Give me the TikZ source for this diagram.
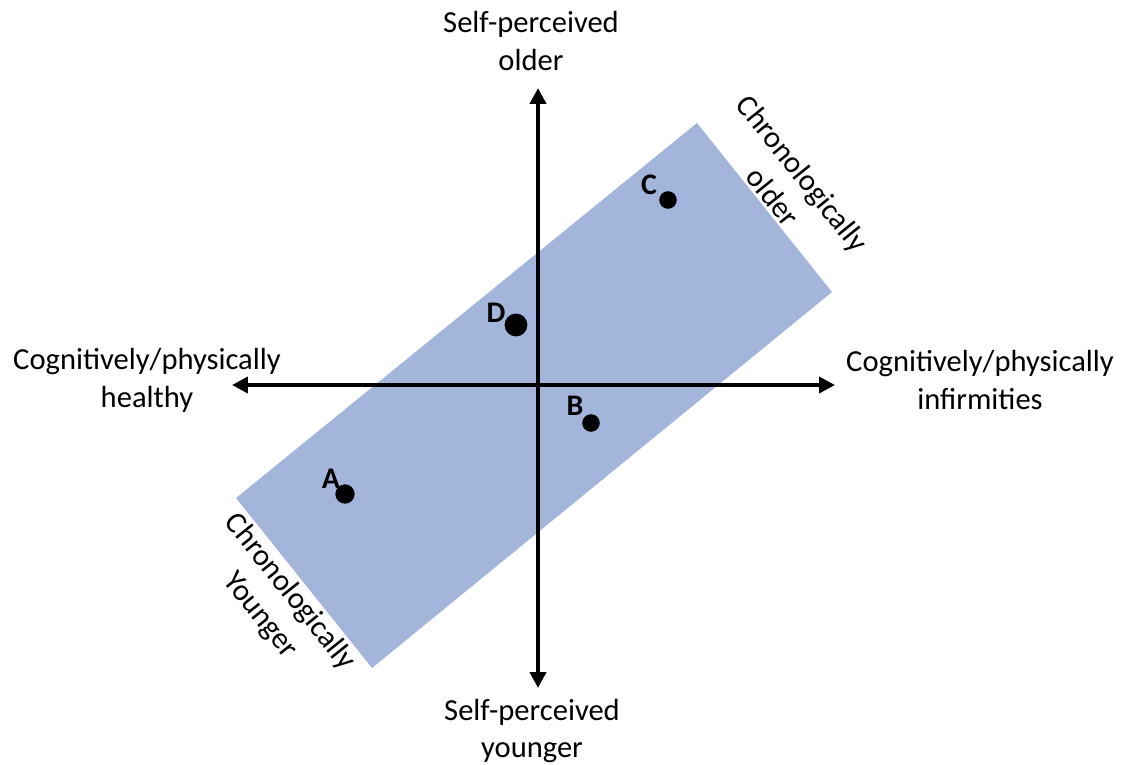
\documentclass[tikz,border=0pt]{standalone}
\usepackage{fontspec}
\setmainfont{Carlito}
\usetikzlibrary{arrows.meta}
\definecolor{bandblue}{RGB}{164,181,220}
\tikzset{
  axis/.style={line width=2.2pt,-{Triangle[length=9pt,width=9pt]}},
  axislabel/.style={align=center,font=\fontsize{17.4}{21.5}\selectfont},
  bandlabel/.style={align=center,rotate=-51.3,font=\fontsize{17.4}{21.5}\selectfont},
  dot/.style={circle,fill=black,inner sep=0pt,minimum size=#1},
  letter/.style={font=\fontsize{17}{18}\selectfont\bfseries}
}
\begin{document}
\begin{tikzpicture}[x=0.02cm,y=-0.02cm]
\useasboundingbox (0,0) rectangle (1128,764);

% band of chronological age
\coordinate (bt) at (697,123);
\coordinate (br) at (832,292);
\coordinate (bb) at (372,668);
\coordinate (bl) at (236,498);
\fill[bandblue] (bt) -- (br) -- (bb) -- (bl) -- cycle;

% axes
\coordinate (o) at (538,385);
\coordinate (top) at (538,88);
\coordinate (bottom) at (538,688);
\coordinate (left) at (232,385);
\coordinate (right) at (835,385);
\draw[axis] (o) -- (top);
\draw[axis] (o) -- (bottom);
\draw[axis] (o) -- (left);
\draw[axis] (o) -- (right);

\node[axislabel] (older) at (531,41) {Self-perceived\\older};
\node[axislabel] (younger) at (532,731) {Self-perceived\\younger};
\node[axislabel] (healthy) at (147,380) {Cognitively/physically\\healthy};
\node[axislabel] (infirm) at (980,380) {Cognitively/physically\\infirmities};

\node[bandlabel] (chrold) at (788,185) {Chronologically\\older};
\node[bandlabel] (chryoung) at (275,604) {Chronologically\\Younger};

% people
\node[dot=10pt] (c) at (668,200) {};
\node[letter] at (649,185) {C};
\node[dot=13pt] (d) at (516,325) {};
\node[letter] at (496,313) {D};
\node[dot=10pt] (b) at (591,423) {};
\node[letter] at (575,406) {B};
\node[dot=11pt] (a) at (345,494) {};
\node[letter] at (331,479) {A};
\end{tikzpicture}
\end{document}
